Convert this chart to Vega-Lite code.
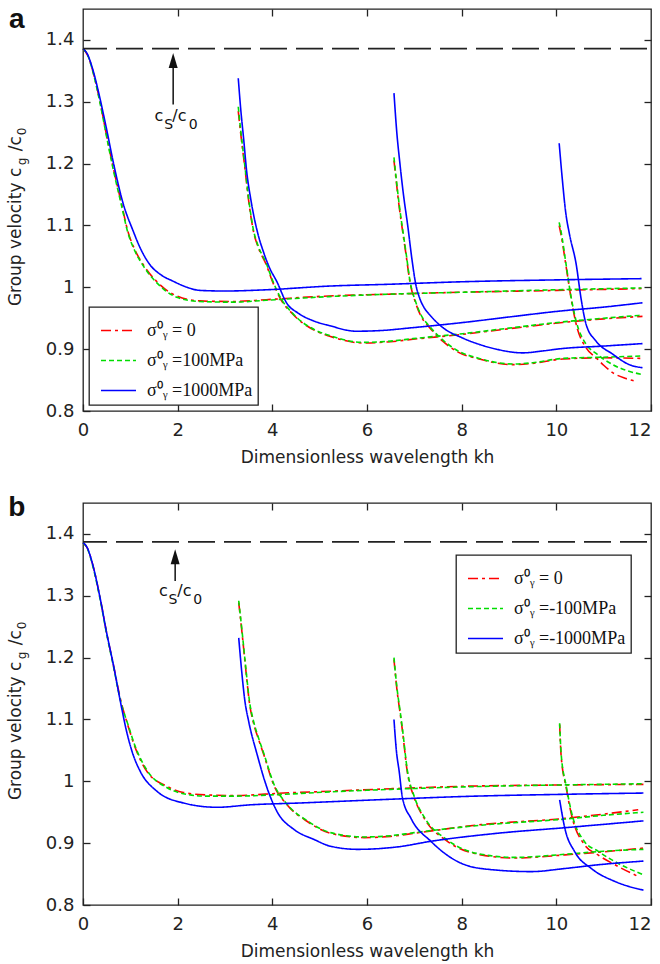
{
"$schema":"https://vega.github.io/schema/vega-lite/v6.json",
"padding":{"left":5,"top":5,"right":5,"bottom":5},
"spacing":27,
"config":{"view":{"stroke":"#222","strokeWidth":1.3},
 "axis":{"labelFont":"DejaVu Sans","labelFontSize":18,"labelColor":"#222","titleFont":"DejaVu Sans","titleFontSize":17,"titleFontWeight":"normal","titleColor":"#222","grid":false,"domain":false,"tickColor":"#222","tickSize":-7,"tickWidth":1.3,"labelFlush":false},
 "legend":{"labelFont":"Liberation Serif","labelFontSize":18,"labelColor":"#111","symbolType":"stroke","symbolSize":1225,"symbolStrokeWidth":1.6,"labelOffset":10,"padding":5,"symbolOffset":6,"strokeColor":"#222","strokeWidth":1.3,"fillColor":"white","title":null,"rowPadding":2}},
"resolve":{"scale":{"color":"independent","strokeDash":"independent"},"legend":{"color":"independent","strokeDash":"independent"}},
"datasets":{
"a":[
{"stress":"0","mode":1,"kh":0,"v":1.386},{"stress":"0","mode":1,"kh":0.1,"v":1.375},{"stress":"0","mode":1,"kh":0.2,"v":1.352},{"stress":"0","mode":1,"kh":0.36,"v":1.3},{"stress":"0","mode":1,"kh":0.5,"v":1.245},{"stress":"0","mode":1,"kh":0.64,"v":1.193},{"stress":"0","mode":1,"kh":0.8,"v":1.14},{"stress":"0","mode":1,"kh":0.95,"v":1.09},{"stress":"0","mode":1,"kh":1.1,"v":1.06},{"stress":"0","mode":1,"kh":1.27,"v":1.037},{"stress":"0","mode":1,"kh":1.55,"v":1.01},{"stress":"0","mode":1,"kh":1.98,"v":0.986},{"stress":"0","mode":1,"kh":2.47,"v":0.978},{"stress":"0","mode":1,"kh":3.17,"v":0.977},{"stress":"0","mode":1,"kh":3.87,"v":0.98},{"stress":"0","mode":1,"kh":5.2,"v":0.986},{"stress":"0","mode":1,"kh":6.5,"v":0.989},{"stress":"0","mode":1,"kh":8,"v":0.992},{"stress":"0","mode":1,"kh":10,"v":0.995},{"stress":"0","mode":1,"kh":11.8,"v":0.998},
{"stress":"0","mode":2,"kh":3.28,"v":1.285},{"stress":"0","mode":2,"kh":3.33,"v":1.25},{"stress":"0","mode":2,"kh":3.42,"v":1.193},{"stress":"0","mode":2,"kh":3.5,"v":1.14},{"stress":"0","mode":2,"kh":3.6,"v":1.091},{"stress":"0","mode":2,"kh":3.7,"v":1.065},{"stress":"0","mode":2,"kh":3.87,"v":1.037},{"stress":"0","mode":2,"kh":4,"v":1.01},{"stress":"0","mode":2,"kh":4.16,"v":0.983},{"stress":"0","mode":2,"kh":4.44,"v":0.956},{"stress":"0","mode":2,"kh":4.93,"v":0.929},{"stress":"0","mode":2,"kh":5.21,"v":0.921},{"stress":"0","mode":2,"kh":5.91,"v":0.91},{"stress":"0","mode":2,"kh":6.5,"v":0.912},{"stress":"0","mode":2,"kh":6.97,"v":0.916},{"stress":"0","mode":2,"kh":8.02,"v":0.924},{"stress":"0","mode":2,"kh":9,"v":0.933},{"stress":"0","mode":2,"kh":10.13,"v":0.943},{"stress":"0","mode":2,"kh":11,"v":0.949},{"stress":"0","mode":2,"kh":11.82,"v":0.953},
{"stress":"0","mode":3,"kh":6.57,"v":1.205},{"stress":"0","mode":3,"kh":6.62,"v":1.17},{"stress":"0","mode":3,"kh":6.68,"v":1.13},{"stress":"0","mode":3,"kh":6.75,"v":1.092},{"stress":"0","mode":3,"kh":6.83,"v":1.05},{"stress":"0","mode":3,"kh":6.9,"v":1.012},{"stress":"0","mode":3,"kh":7.04,"v":0.972},{"stress":"0","mode":3,"kh":7.15,"v":0.952},{"stress":"0","mode":3,"kh":7.32,"v":0.935},{"stress":"0","mode":3,"kh":7.6,"v":0.913},{"stress":"0","mode":3,"kh":7.88,"v":0.897},{"stress":"0","mode":3,"kh":8.37,"v":0.884},{"stress":"0","mode":3,"kh":9.08,"v":0.875},{"stress":"0","mode":3,"kh":9.5,"v":0.877},{"stress":"0","mode":3,"kh":10.13,"v":0.884},{"stress":"0","mode":3,"kh":11,"v":0.886},{"stress":"0","mode":3,"kh":11.82,"v":0.885},
{"stress":"0","mode":4,"kh":10.06,"v":1.1},{"stress":"0","mode":4,"kh":10.1,"v":1.085},{"stress":"0","mode":4,"kh":10.2,"v":1.037},{"stress":"0","mode":4,"kh":10.31,"v":0.983},{"stress":"0","mode":4,"kh":10.42,"v":0.94},{"stress":"0","mode":4,"kh":10.63,"v":0.902},{"stress":"0","mode":4,"kh":10.84,"v":0.886},{"stress":"0","mode":4,"kh":11,"v":0.874},{"stress":"0","mode":4,"kh":11.19,"v":0.862},{"stress":"0","mode":4,"kh":11.45,"v":0.853},{"stress":"0","mode":4,"kh":11.68,"v":0.848},
{"stress":"100","mode":1,"kh":0,"v":1.386},{"stress":"100","mode":1,"kh":0.1,"v":1.375},{"stress":"100","mode":1,"kh":0.2,"v":1.351},{"stress":"100","mode":1,"kh":0.36,"v":1.298},{"stress":"100","mode":1,"kh":0.5,"v":1.243},{"stress":"100","mode":1,"kh":0.64,"v":1.19},{"stress":"100","mode":1,"kh":0.8,"v":1.137},{"stress":"100","mode":1,"kh":0.95,"v":1.088},{"stress":"100","mode":1,"kh":1.1,"v":1.058},{"stress":"100","mode":1,"kh":1.27,"v":1.035},{"stress":"100","mode":1,"kh":1.55,"v":1.008},{"stress":"100","mode":1,"kh":1.98,"v":0.984},{"stress":"100","mode":1,"kh":2.47,"v":0.977},{"stress":"100","mode":1,"kh":3.17,"v":0.976},{"stress":"100","mode":1,"kh":3.87,"v":0.979},{"stress":"100","mode":1,"kh":5.2,"v":0.985},{"stress":"100","mode":1,"kh":6.5,"v":0.989},{"stress":"100","mode":1,"kh":8,"v":0.992},{"stress":"100","mode":1,"kh":10,"v":0.996},{"stress":"100","mode":1,"kh":11.8,"v":0.999},
{"stress":"100","mode":2,"kh":3.28,"v":1.292},{"stress":"100","mode":2,"kh":3.33,"v":1.255},{"stress":"100","mode":2,"kh":3.42,"v":1.196},{"stress":"100","mode":2,"kh":3.5,"v":1.143},{"stress":"100","mode":2,"kh":3.6,"v":1.093},{"stress":"100","mode":2,"kh":3.7,"v":1.067},{"stress":"100","mode":2,"kh":3.87,"v":1.039},{"stress":"100","mode":2,"kh":4,"v":1.012},{"stress":"100","mode":2,"kh":4.16,"v":0.985},{"stress":"100","mode":2,"kh":4.44,"v":0.957},{"stress":"100","mode":2,"kh":4.93,"v":0.93},{"stress":"100","mode":2,"kh":5.21,"v":0.922},{"stress":"100","mode":2,"kh":5.91,"v":0.911},{"stress":"100","mode":2,"kh":6.5,"v":0.913},{"stress":"100","mode":2,"kh":6.97,"v":0.917},{"stress":"100","mode":2,"kh":8.02,"v":0.925},{"stress":"100","mode":2,"kh":9,"v":0.934},{"stress":"100","mode":2,"kh":10.13,"v":0.944},{"stress":"100","mode":2,"kh":11,"v":0.95},{"stress":"100","mode":2,"kh":11.82,"v":0.955},
{"stress":"100","mode":3,"kh":6.57,"v":1.21},{"stress":"100","mode":3,"kh":6.62,"v":1.174},{"stress":"100","mode":3,"kh":6.68,"v":1.134},{"stress":"100","mode":3,"kh":6.75,"v":1.095},{"stress":"100","mode":3,"kh":6.83,"v":1.053},{"stress":"100","mode":3,"kh":6.9,"v":1.014},{"stress":"100","mode":3,"kh":7.04,"v":0.974},{"stress":"100","mode":3,"kh":7.15,"v":0.954},{"stress":"100","mode":3,"kh":7.32,"v":0.937},{"stress":"100","mode":3,"kh":7.6,"v":0.915},{"stress":"100","mode":3,"kh":7.88,"v":0.899},{"stress":"100","mode":3,"kh":8.37,"v":0.885},{"stress":"100","mode":3,"kh":9.08,"v":0.876},{"stress":"100","mode":3,"kh":9.5,"v":0.878},{"stress":"100","mode":3,"kh":10.13,"v":0.885},{"stress":"100","mode":3,"kh":11,"v":0.887},{"stress":"100","mode":3,"kh":11.82,"v":0.889},
{"stress":"100","mode":4,"kh":10.06,"v":1.105},{"stress":"100","mode":4,"kh":10.1,"v":1.09},{"stress":"100","mode":4,"kh":10.2,"v":1.04},{"stress":"100","mode":4,"kh":10.31,"v":0.985},{"stress":"100","mode":4,"kh":10.42,"v":0.945},{"stress":"100","mode":4,"kh":10.63,"v":0.908},{"stress":"100","mode":4,"kh":10.84,"v":0.893},{"stress":"100","mode":4,"kh":11.19,"v":0.875},{"stress":"100","mode":4,"kh":11.5,"v":0.865},{"stress":"100","mode":4,"kh":11.82,"v":0.859},
{"stress":"1000","mode":1,"kh":0,"v":1.386},{"stress":"1000","mode":1,"kh":0.1,"v":1.376},{"stress":"1000","mode":1,"kh":0.2,"v":1.354},{"stress":"1000","mode":1,"kh":0.36,"v":1.305},{"stress":"1000","mode":1,"kh":0.5,"v":1.255},{"stress":"1000","mode":1,"kh":0.66,"v":1.195},{"stress":"1000","mode":1,"kh":0.85,"v":1.135},{"stress":"1000","mode":1,"kh":1.06,"v":1.091},{"stress":"1000","mode":1,"kh":1.2,"v":1.065},{"stress":"1000","mode":1,"kh":1.41,"v":1.037},{"stress":"1000","mode":1,"kh":1.65,"v":1.02},{"stress":"1000","mode":1,"kh":1.9,"v":1.01},{"stress":"1000","mode":1,"kh":2.2,"v":1},{"stress":"1000","mode":1,"kh":2.47,"v":0.995},{"stress":"1000","mode":1,"kh":3,"v":0.994},{"stress":"1000","mode":1,"kh":3.87,"v":0.996},{"stress":"1000","mode":1,"kh":5.21,"v":1.002},{"stress":"1000","mode":1,"kh":6.5,"v":1.005},{"stress":"1000","mode":1,"kh":8.02,"v":1.009},{"stress":"1000","mode":1,"kh":10,"v":1.012},{"stress":"1000","mode":1,"kh":11.8,"v":1.014},
{"stress":"1000","mode":2,"kh":3.28,"v":1.338},{"stress":"1000","mode":2,"kh":3.33,"v":1.29},{"stress":"1000","mode":2,"kh":3.4,"v":1.235},{"stress":"1000","mode":2,"kh":3.45,"v":1.193},{"stress":"1000","mode":2,"kh":3.55,"v":1.14},{"stress":"1000","mode":2,"kh":3.7,"v":1.085},{"stress":"1000","mode":2,"kh":3.8,"v":1.06},{"stress":"1000","mode":2,"kh":3.95,"v":1.03},{"stress":"1000","mode":2,"kh":4.09,"v":1.01},{"stress":"1000","mode":2,"kh":4.3,"v":0.975},{"stress":"1000","mode":2,"kh":4.55,"v":0.958},{"stress":"1000","mode":2,"kh":4.86,"v":0.946},{"stress":"1000","mode":2,"kh":5.21,"v":0.938},{"stress":"1000","mode":2,"kh":5.77,"v":0.929},{"stress":"1000","mode":2,"kh":6.27,"v":0.93},{"stress":"1000","mode":2,"kh":7,"v":0.935},{"stress":"1000","mode":2,"kh":8.02,"v":0.943},{"stress":"1000","mode":2,"kh":9,"v":0.952},{"stress":"1000","mode":2,"kh":10.13,"v":0.962},{"stress":"1000","mode":2,"kh":11,"v":0.968},{"stress":"1000","mode":2,"kh":11.82,"v":0.975},
{"stress":"1000","mode":3,"kh":6.57,"v":1.314},{"stress":"1000","mode":3,"kh":6.63,"v":1.25},{"stress":"1000","mode":3,"kh":6.69,"v":1.204},{"stress":"1000","mode":3,"kh":6.77,"v":1.15},{"stress":"1000","mode":3,"kh":6.86,"v":1.1},{"stress":"1000","mode":3,"kh":6.95,"v":1.045},{"stress":"1000","mode":3,"kh":7.03,"v":1.005},{"stress":"1000","mode":3,"kh":7.11,"v":0.983},{"stress":"1000","mode":3,"kh":7.2,"v":0.968},{"stress":"1000","mode":3,"kh":7.32,"v":0.956},{"stress":"1000","mode":3,"kh":7.6,"v":0.935},{"stress":"1000","mode":3,"kh":8.02,"v":0.918},{"stress":"1000","mode":3,"kh":8.4,"v":0.907},{"stress":"1000","mode":3,"kh":8.73,"v":0.9},{"stress":"1000","mode":3,"kh":9.29,"v":0.894},{"stress":"1000","mode":3,"kh":9.7,"v":0.897},{"stress":"1000","mode":3,"kh":10.13,"v":0.901},{"stress":"1000","mode":3,"kh":11,"v":0.905},{"stress":"1000","mode":3,"kh":11.82,"v":0.909},
{"stress":"1000","mode":4,"kh":10.06,"v":1.233},{"stress":"1000","mode":4,"kh":10.12,"v":1.18},{"stress":"1000","mode":4,"kh":10.2,"v":1.12},{"stress":"1000","mode":4,"kh":10.28,"v":1.085},{"stress":"1000","mode":4,"kh":10.42,"v":1.037},{"stress":"1000","mode":4,"kh":10.52,"v":0.983},{"stress":"1000","mode":4,"kh":10.63,"v":0.94},{"stress":"1000","mode":4,"kh":10.84,"v":0.913},{"stress":"1000","mode":4,"kh":11.19,"v":0.892},{"stress":"1000","mode":4,"kh":11.54,"v":0.875},{"stress":"1000","mode":4,"kh":11.82,"v":0.87}
],
"b":[
{"stress":"0","mode":1,"kh":0,"v":1.386},{"stress":"0","mode":1,"kh":0.1,"v":1.376},{"stress":"0","mode":1,"kh":0.2,"v":1.352},{"stress":"0","mode":1,"kh":0.36,"v":1.297},{"stress":"0","mode":1,"kh":0.5,"v":1.24},{"stress":"0","mode":1,"kh":0.64,"v":1.189},{"stress":"0","mode":1,"kh":0.8,"v":1.13},{"stress":"0","mode":1,"kh":0.95,"v":1.09},{"stress":"0","mode":1,"kh":1.1,"v":1.055},{"stress":"0","mode":1,"kh":1.35,"v":1.016},{"stress":"0","mode":1,"kh":1.77,"v":0.992},{"stress":"0","mode":1,"kh":2.12,"v":0.982},{"stress":"0","mode":1,"kh":2.6,"v":0.978},{"stress":"0","mode":1,"kh":3.18,"v":0.977},{"stress":"0","mode":1,"kh":4.24,"v":0.981},{"stress":"0","mode":1,"kh":5.23,"v":0.984},{"stress":"0","mode":1,"kh":6.5,"v":0.988},{"stress":"0","mode":1,"kh":8.06,"v":0.992},{"stress":"0","mode":1,"kh":10,"v":0.994},{"stress":"0","mode":1,"kh":11.84,"v":0.995},
{"stress":"0","mode":2,"kh":3.29,"v":1.289},{"stress":"0","mode":2,"kh":3.36,"v":1.24},{"stress":"0","mode":2,"kh":3.44,"v":1.18},{"stress":"0","mode":2,"kh":3.52,"v":1.125},{"stress":"0","mode":2,"kh":3.6,"v":1.095},{"stress":"0","mode":2,"kh":3.7,"v":1.07},{"stress":"0","mode":2,"kh":3.82,"v":1.043},{"stress":"0","mode":2,"kh":4.03,"v":0.994},{"stress":"0","mode":2,"kh":4.31,"v":0.962},{"stress":"0","mode":2,"kh":4.74,"v":0.935},{"stress":"0","mode":2,"kh":5.23,"v":0.916},{"stress":"0","mode":2,"kh":5.94,"v":0.909},{"stress":"0","mode":2,"kh":6.5,"v":0.911},{"stress":"0","mode":2,"kh":7,"v":0.916},{"stress":"0","mode":2,"kh":8.41,"v":0.93},{"stress":"0","mode":2,"kh":10.18,"v":0.94},{"stress":"0","mode":2,"kh":11,"v":0.947},{"stress":"0","mode":2,"kh":11.73,"v":0.954},
{"stress":"0","mode":3,"kh":6.57,"v":1.197},{"stress":"0","mode":3,"kh":6.63,"v":1.15},{"stress":"0","mode":3,"kh":6.7,"v":1.11},{"stress":"0","mode":3,"kh":6.75,"v":1.081},{"stress":"0","mode":3,"kh":6.85,"v":1.016},{"stress":"0","mode":3,"kh":7,"v":0.973},{"stress":"0","mode":3,"kh":7.21,"v":0.94},{"stress":"0","mode":3,"kh":7.7,"v":0.903},{"stress":"0","mode":3,"kh":8.41,"v":0.881},{"stress":"0","mode":3,"kh":9.12,"v":0.876},{"stress":"0","mode":3,"kh":10.18,"v":0.881},{"stress":"0","mode":3,"kh":11,"v":0.886},{"stress":"0","mode":3,"kh":11.84,"v":0.892},
{"stress":"0","mode":4,"kh":10.07,"v":1.092},{"stress":"0","mode":4,"kh":10.1,"v":1.043},{"stress":"0","mode":4,"kh":10.21,"v":0.989},{"stress":"0","mode":4,"kh":10.32,"v":0.946},{"stress":"0","mode":4,"kh":10.6,"v":0.897},{"stress":"0","mode":4,"kh":10.88,"v":0.881},{"stress":"0","mode":4,"kh":11.24,"v":0.865},{"stress":"0","mode":4,"kh":11.73,"v":0.846},
{"stress":"-100","mode":1,"kh":0,"v":1.386},{"stress":"-100","mode":1,"kh":0.1,"v":1.375},{"stress":"-100","mode":1,"kh":0.2,"v":1.35},{"stress":"-100","mode":1,"kh":0.36,"v":1.295},{"stress":"-100","mode":1,"kh":0.5,"v":1.238},{"stress":"-100","mode":1,"kh":0.64,"v":1.187},{"stress":"-100","mode":1,"kh":0.8,"v":1.128},{"stress":"-100","mode":1,"kh":0.95,"v":1.092},{"stress":"-100","mode":1,"kh":1.1,"v":1.057},{"stress":"-100","mode":1,"kh":1.35,"v":1.018},{"stress":"-100","mode":1,"kh":1.77,"v":0.99},{"stress":"-100","mode":1,"kh":2.12,"v":0.98},{"stress":"-100","mode":1,"kh":2.6,"v":0.976},{"stress":"-100","mode":1,"kh":3.18,"v":0.976},{"stress":"-100","mode":1,"kh":4.24,"v":0.979},{"stress":"-100","mode":1,"kh":5.23,"v":0.983},{"stress":"-100","mode":1,"kh":6.5,"v":0.987},{"stress":"-100","mode":1,"kh":8.06,"v":0.991},{"stress":"-100","mode":1,"kh":10,"v":0.994},{"stress":"-100","mode":1,"kh":11.84,"v":0.996},
{"stress":"-100","mode":2,"kh":3.29,"v":1.292},{"stress":"-100","mode":2,"kh":3.36,"v":1.243},{"stress":"-100","mode":2,"kh":3.44,"v":1.183},{"stress":"-100","mode":2,"kh":3.52,"v":1.128},{"stress":"-100","mode":2,"kh":3.6,"v":1.098},{"stress":"-100","mode":2,"kh":3.7,"v":1.072},{"stress":"-100","mode":2,"kh":3.82,"v":1.045},{"stress":"-100","mode":2,"kh":4.03,"v":0.996},{"stress":"-100","mode":2,"kh":4.31,"v":0.963},{"stress":"-100","mode":2,"kh":4.74,"v":0.936},{"stress":"-100","mode":2,"kh":5.23,"v":0.917},{"stress":"-100","mode":2,"kh":5.94,"v":0.91},{"stress":"-100","mode":2,"kh":6.5,"v":0.912},{"stress":"-100","mode":2,"kh":7,"v":0.917},{"stress":"-100","mode":2,"kh":8.41,"v":0.929},{"stress":"-100","mode":2,"kh":10.18,"v":0.939},{"stress":"-100","mode":2,"kh":11,"v":0.945},{"stress":"-100","mode":2,"kh":11.84,"v":0.95},
{"stress":"-100","mode":3,"kh":6.57,"v":1.2},{"stress":"-100","mode":3,"kh":6.63,"v":1.153},{"stress":"-100","mode":3,"kh":6.7,"v":1.113},{"stress":"-100","mode":3,"kh":6.75,"v":1.084},{"stress":"-100","mode":3,"kh":6.85,"v":1.019},{"stress":"-100","mode":3,"kh":7,"v":0.975},{"stress":"-100","mode":3,"kh":7.21,"v":0.942},{"stress":"-100","mode":3,"kh":7.7,"v":0.905},{"stress":"-100","mode":3,"kh":8.41,"v":0.882},{"stress":"-100","mode":3,"kh":9.12,"v":0.877},{"stress":"-100","mode":3,"kh":10.18,"v":0.882},{"stress":"-100","mode":3,"kh":11,"v":0.887},{"stress":"-100","mode":3,"kh":11.84,"v":0.89},
{"stress":"-100","mode":4,"kh":10.07,"v":1.094},{"stress":"-100","mode":4,"kh":10.1,"v":1.046},{"stress":"-100","mode":4,"kh":10.21,"v":0.992},{"stress":"-100","mode":4,"kh":10.32,"v":0.95},{"stress":"-100","mode":4,"kh":10.6,"v":0.902},{"stress":"-100","mode":4,"kh":10.88,"v":0.887},{"stress":"-100","mode":4,"kh":11.24,"v":0.87},{"stress":"-100","mode":4,"kh":11.5,"v":0.86},{"stress":"-100","mode":4,"kh":11.84,"v":0.849},
{"stress":"-1000","mode":1,"kh":0,"v":1.386},{"stress":"-1000","mode":1,"kh":0.1,"v":1.376},{"stress":"-1000","mode":1,"kh":0.2,"v":1.352},{"stress":"-1000","mode":1,"kh":0.36,"v":1.297},{"stress":"-1000","mode":1,"kh":0.5,"v":1.24},{"stress":"-1000","mode":1,"kh":0.64,"v":1.189},{"stress":"-1000","mode":1,"kh":0.8,"v":1.125},{"stress":"-1000","mode":1,"kh":0.92,"v":1.081},{"stress":"-1000","mode":1,"kh":1.05,"v":1.045},{"stress":"-1000","mode":1,"kh":1.21,"v":1.016},{"stress":"-1000","mode":1,"kh":1.56,"v":0.984},{"stress":"-1000","mode":1,"kh":2.12,"v":0.965},{"stress":"-1000","mode":1,"kh":2.83,"v":0.958},{"stress":"-1000","mode":1,"kh":3.54,"v":0.962},{"stress":"-1000","mode":1,"kh":4.6,"v":0.965},{"stress":"-1000","mode":1,"kh":5.23,"v":0.967},{"stress":"-1000","mode":1,"kh":6.5,"v":0.971},{"stress":"-1000","mode":1,"kh":8.06,"v":0.9755},{"stress":"-1000","mode":1,"kh":10.18,"v":0.979},{"stress":"-1000","mode":1,"kh":11.84,"v":0.981},
{"stress":"-1000","mode":2,"kh":3.29,"v":1.232},{"stress":"-1000","mode":2,"kh":3.35,"v":1.18},{"stress":"-1000","mode":2,"kh":3.42,"v":1.13},{"stress":"-1000","mode":2,"kh":3.5,"v":1.097},{"stress":"-1000","mode":2,"kh":3.68,"v":1.043},{"stress":"-1000","mode":2,"kh":3.89,"v":0.989},{"stress":"-1000","mode":2,"kh":4.1,"v":0.951},{"stress":"-1000","mode":2,"kh":4.46,"v":0.922},{"stress":"-1000","mode":2,"kh":4.88,"v":0.906},{"stress":"-1000","mode":2,"kh":5.23,"v":0.895},{"stress":"-1000","mode":2,"kh":5.8,"v":0.89},{"stress":"-1000","mode":2,"kh":6.65,"v":0.894},{"stress":"-1000","mode":2,"kh":7.35,"v":0.903},{"stress":"-1000","mode":2,"kh":8.76,"v":0.916},{"stress":"-1000","mode":2,"kh":10.18,"v":0.925},{"stress":"-1000","mode":2,"kh":11.84,"v":0.936},
{"stress":"-1000","mode":3,"kh":6.57,"v":1.1},{"stress":"-1000","mode":3,"kh":6.62,"v":1.05},{"stress":"-1000","mode":3,"kh":6.68,"v":1.016},{"stress":"-1000","mode":3,"kh":6.75,"v":0.973},{"stress":"-1000","mode":3,"kh":6.93,"v":0.94},{"stress":"-1000","mode":3,"kh":7.35,"v":0.903},{"stress":"-1000","mode":3,"kh":7.92,"v":0.87},{"stress":"-1000","mode":3,"kh":8.41,"v":0.859},{"stress":"-1000","mode":3,"kh":9.47,"v":0.854},{"stress":"-1000","mode":3,"kh":10.18,"v":0.859},{"stress":"-1000","mode":3,"kh":10.88,"v":0.865},{"stress":"-1000","mode":3,"kh":11.84,"v":0.871},
{"stress":"-1000","mode":4,"kh":10.07,"v":0.97},{"stress":"-1000","mode":4,"kh":10.18,"v":0.924},{"stress":"-1000","mode":4,"kh":10.39,"v":0.886},{"stress":"-1000","mode":4,"kh":10.74,"v":0.859},{"stress":"-1000","mode":4,"kh":11.24,"v":0.838},{"stress":"-1000","mode":4,"kh":11.84,"v":0.824}
]},
"vconcat":[
{"width":568,"height":402,
 "resolve":{"axis":{"x":"independent","y":"independent"}},
 "layer":[
  {"data":{"name":"a"},"mark":{"type":"line","strokeWidth":1.6,"interpolate":"monotone"},
   "encoding":{
    "x":{"field":"kh","type":"quantitative","scale":{"domain":[0,12],"nice":false,"zero":false},"axis":{"values":[0,2,4,6,8,10,12],"format":"d","title":"Dimensionless wavelength kh","labelPadding":17,"titlePadding":10,"labelAlign":{"condition":{"test":"datum.value == 12","value":"right"},"value":"center"}}},
    "y":{"field":"v","type":"quantitative","scale":{"domain":[0.8,1.45],"nice":false,"zero":false},"axis":{"values":[0.8,0.9,1,1.1,1.2,1.3,1.4],"format":"~g","title":null,"labelPadding":16}},
    "color":{"field":"stress","type":"nominal","scale":{"domain":["0","100","1000"],"range":["#ff0000","#00dd00","#0000ff"]},"legend":{"orient":"bottom-left","offset":6,"labelExpr":"datum.label == '0' ? 'σ⁰ᵧ = 0' : 'σ⁰ᵧ =' + datum.label + 'MPa'"}},
    "strokeDash":{"field":"stress","type":"nominal","scale":{"domain":["0","100","1000"],"range":[[10,4,3,4],[5,3],[1,0]]},"legend":{"orient":"bottom-left","offset":6,"labelExpr":"datum.label == '0' ? 'σ⁰ᵧ = 0' : 'σ⁰ᵧ =' + datum.label + 'MPa'"}},
    "detail":{"field":"mode"}}},
  {"data":{"values":[{"line":"cs"}]},"mark":{"type":"rule","color":"#222","strokeWidth":1.8,"strokeDash":[27,9],"strokeDashOffset":32},
   "encoding":{"y":{"datum":1.386,"type":"quantitative","scale":{"domain":[0.8,1.45],"nice":false,"zero":false},"axis":{"orient":"right","values":[0.9,1,1.1,1.2,1.3,1.4],"labels":false,"title":null}}}},
  {"data":{"values":[{"kh":1.905,"v1":1.2955,"v2":1.36}]},"mark":{"type":"rule","color":"#111","strokeWidth":1.5},
   "encoding":{"x":{"field":"kh","type":"quantitative","scale":{"domain":[0,12],"nice":false,"zero":false},"axis":{"orient":"top","values":[2,4,6,8,10],"labels":false,"title":null}},
    "y":{"field":"v1","type":"quantitative","scale":{"domain":[0.8,1.45],"nice":false,"zero":false},"axis":null},"y2":{"field":"v2"}}},
  {"data":{"values":[{"kh":1.905,"v":1.3667}]},"mark":{"type":"point","shape":"M0,-1L0.6,1L-0.6,1Z","filled":true,"color":"#111","size":225,"opacity":1},
   "encoding":{"x":{"field":"kh","type":"quantitative","axis":null},"y":{"field":"v","type":"quantitative","axis":null}}},
  {"data":{"values":[{"kh":1.603,"v":1.2685,"t":"c"},{"kh":2.036,"v":1.2685,"t":"/c"}]},"mark":{"type":"text","font":"DejaVu Sans","fontSize":16,"color":"#111","align":"center","baseline":"alphabetic"},
   "encoding":{"x":{"field":"kh","type":"quantitative","axis":null},"y":{"field":"v","type":"quantitative","axis":null},"text":{"field":"t"}}},
  {"data":{"values":[{"kh":1.81,"v":1.2556,"t":"S"},{"kh":2.327,"v":1.2556,"t":"0"}]},"mark":{"type":"text","font":"DejaVu Sans","fontSize":14,"color":"#111","align":"center","baseline":"alphabetic"},
   "encoding":{"x":{"field":"kh","type":"quantitative","axis":null},"y":{"field":"v","type":"quantitative","axis":null},"text":{"field":"t"}}},
  {"data":{"values":[{"kh":-1.32,"v":0.9696,"t":"Group velocity c"},{"kh":-1.32,"v":1.22,"t":"/c"}]},"mark":{"type":"text","font":"DejaVu Sans","fontSize":17,"color":"#222","align":"left","baseline":"alphabetic","angle":270},
   "encoding":{"x":{"field":"kh","type":"quantitative","axis":null},"y":{"field":"v","type":"quantitative","axis":null},"text":{"field":"t"}}},
  {"data":{"values":[{"kh":-1.2025,"v":1.1974,"t":"g"},{"kh":-1.2025,"v":1.2459,"t":"0"}]},"mark":{"type":"text","font":"DejaVu Sans","fontSize":12,"color":"#222","align":"left","baseline":"alphabetic","angle":270},
   "encoding":{"x":{"field":"kh","type":"quantitative","axis":null},"y":{"field":"v","type":"quantitative","axis":null},"text":{"field":"t"}}},
  {"data":{"values":[{"kh":-1.4,"v":1.4187,"t":"a"}]},"mark":{"type":"text","font":"Liberation Sans","fontSize":28,"fontWeight":"bold","color":"#111","align":"center","baseline":"alphabetic"},
   "encoding":{"x":{"field":"kh","type":"quantitative","axis":null},"y":{"field":"v","type":"quantitative","axis":null},"text":{"field":"t"}}}
 ]},
{"width":568,"height":402,
 "resolve":{"axis":{"x":"independent","y":"independent"}},
 "layer":[
  {"data":{"name":"b"},"mark":{"type":"line","strokeWidth":1.6,"interpolate":"monotone"},
   "encoding":{
    "x":{"field":"kh","type":"quantitative","scale":{"domain":[0,12],"nice":false,"zero":false},"axis":{"values":[0,2,4,6,8,10,12],"format":"d","title":"Dimensionless wavelength kh","labelPadding":17,"titlePadding":10,"labelAlign":{"condition":{"test":"datum.value == 12","value":"right"},"value":"center"}}},
    "y":{"field":"v","type":"quantitative","scale":{"domain":[0.8,1.45],"nice":false,"zero":false},"axis":{"values":[0.8,0.9,1,1.1,1.2,1.3,1.4],"format":"~g","title":null,"labelPadding":16}},
    "color":{"field":"stress","type":"nominal","scale":{"domain":["0","-100","-1000"],"range":["#ff0000","#00dd00","#0000ff"]},"legend":{"orient":"none","legendX":373,"legendY":52,"labelExpr":"datum.label == '0' ? 'σ⁰ᵧ = 0' : 'σ⁰ᵧ =' + datum.label + 'MPa'"}},
    "strokeDash":{"field":"stress","type":"nominal","scale":{"domain":["0","-100","-1000"],"range":[[10,4,3,4],[5,3],[1,0]]},"legend":{"orient":"none","legendX":373,"legendY":52,"labelExpr":"datum.label == '0' ? 'σ⁰ᵧ = 0' : 'σ⁰ᵧ =' + datum.label + 'MPa'"}},
    "detail":{"field":"mode"}}},
  {"data":{"values":[{"line":"cs"}]},"mark":{"type":"rule","color":"#222","strokeWidth":1.8,"strokeDash":[27,9],"strokeDashOffset":32},
   "encoding":{"y":{"datum":1.387,"type":"quantitative","scale":{"domain":[0.8,1.45],"nice":false,"zero":false},"axis":{"orient":"right","values":[0.9,1,1.1,1.2,1.3,1.4],"labels":false,"title":null}}}},
  {"data":{"values":[{"kh":1.947,"v1":1.324,"v2":1.355}]},"mark":{"type":"rule","color":"#111","strokeWidth":1.5},
   "encoding":{"x":{"field":"kh","type":"quantitative","scale":{"domain":[0,12],"nice":false,"zero":false},"axis":{"orient":"top","values":[2,4,6,8,10],"labels":false,"title":null}},
    "y":{"field":"v1","type":"quantitative","scale":{"domain":[0.8,1.45],"nice":false,"zero":false},"axis":null},"y2":{"field":"v2"}}},
  {"data":{"values":[{"kh":1.947,"v":1.3632}]},"mark":{"type":"point","shape":"M0,-1L0.6,1L-0.6,1Z","filled":true,"color":"#111","size":225,"opacity":1},
   "encoding":{"x":{"field":"kh","type":"quantitative","axis":null},"y":{"field":"v","type":"quantitative","axis":null}}},
  {"data":{"values":[{"kh":1.699,"v":1.2997,"t":"c"},{"kh":2.142,"v":1.2997,"t":"/c"}]},"mark":{"type":"text","font":"DejaVu Sans","fontSize":16,"color":"#111","align":"center","baseline":"alphabetic"},
   "encoding":{"x":{"field":"kh","type":"quantitative","axis":null},"y":{"field":"v","type":"quantitative","axis":null},"text":{"field":"t"}}},
  {"data":{"values":[{"kh":1.9,"v":1.2862,"t":"S"},{"kh":2.423,"v":1.2862,"t":"0"}]},"mark":{"type":"text","font":"DejaVu Sans","fontSize":14,"color":"#111","align":"center","baseline":"alphabetic"},
   "encoding":{"x":{"field":"kh","type":"quantitative","axis":null},"y":{"field":"v","type":"quantitative","axis":null},"text":{"field":"t"}}},
  {"data":{"values":[{"kh":-1.32,"v":0.9696,"t":"Group velocity c"},{"kh":-1.32,"v":1.22,"t":"/c"}]},"mark":{"type":"text","font":"DejaVu Sans","fontSize":17,"color":"#222","align":"left","baseline":"alphabetic","angle":270},
   "encoding":{"x":{"field":"kh","type":"quantitative","axis":null},"y":{"field":"v","type":"quantitative","axis":null},"text":{"field":"t"}}},
  {"data":{"values":[{"kh":-1.2025,"v":1.1974,"t":"g"},{"kh":-1.2025,"v":1.2459,"t":"0"}]},"mark":{"type":"text","font":"DejaVu Sans","fontSize":12,"color":"#222","align":"left","baseline":"alphabetic","angle":270},
   "encoding":{"x":{"field":"kh","type":"quantitative","axis":null},"y":{"field":"v","type":"quantitative","axis":null},"text":{"field":"t"}}},
  {"data":{"values":[{"kh":-1.4,"v":1.4293,"t":"b"}]},"mark":{"type":"text","font":"Liberation Sans","fontSize":28,"fontWeight":"bold","color":"#111","align":"center","baseline":"alphabetic"},
   "encoding":{"x":{"field":"kh","type":"quantitative","axis":null},"y":{"field":"v","type":"quantitative","axis":null},"text":{"field":"t"}}}
 ]}
]}
